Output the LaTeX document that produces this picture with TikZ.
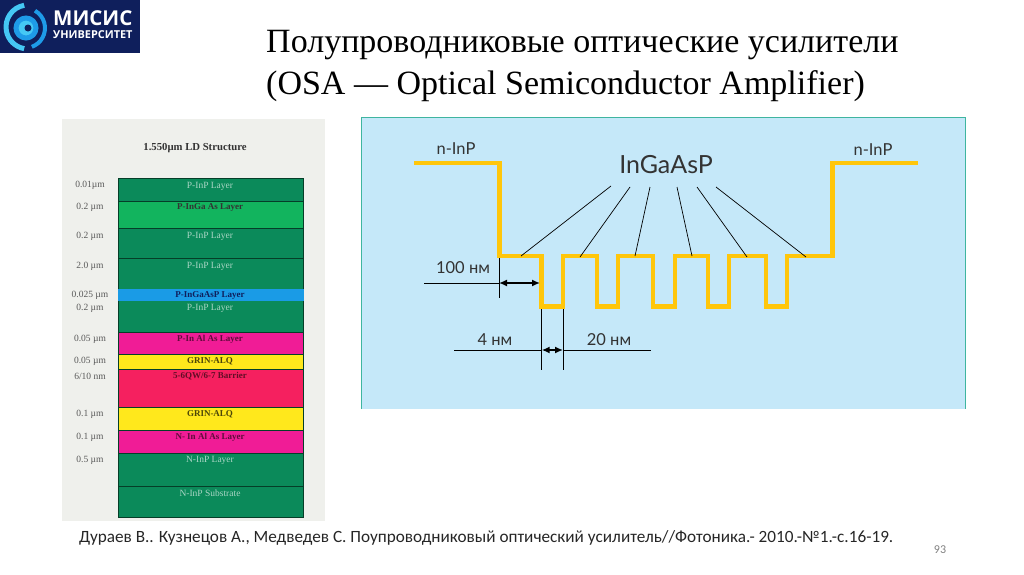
\documentclass[tikz,border=0pt]{standalone}
\usepackage{fontspec}
\setmainfont{Liberation Serif}
\newfontfamily\notefont{Carlito}
\newfontfamily\schemefont{Lato}
\newfontfamily\logofont{Open Sans}
\usepackage{tikz}
\usetikzlibrary{arrows.meta,positioning}

\definecolor{logonavy}{HTML}{0F1F5C}
\definecolor{logoblue}{HTML}{1E9BE8}
\definecolor{logocyan}{HTML}{45C8F5}
\definecolor{sheetgrey}{HTML}{EFF0EC}
\definecolor{inpgreen}{HTML}{0B8A5A}
\definecolor{gaasgreen}{HTML}{12B45E}
\definecolor{gaaspblue}{HTML}{1A9BE6}
\definecolor{alaspink}{HTML}{F01C96}
\definecolor{grinyellow}{HTML}{FFE81C}
\definecolor{barrierred}{HTML}{F5205F}
\definecolor{panelblue}{HTML}{C5E8F9}
\definecolor{panelteal}{HTML}{3FB5A0}
\definecolor{wellyellow}{HTML}{FFC60B}

\begin{document}
\begin{tikzpicture}[
        x=1pt, y=-1pt,
        title/.style={anchor=west, inner sep=0pt, font=\fontsize{34}{34}\selectfont},
        layer/.style={draw=black!55!inpgreen, line width=0.5pt, minimum width=185.5pt, inner sep=0pt},
        thick/.style={text=black!65, inner sep=0pt, font=\fontsize{9.5}{10}\selectfont},
        pale/.style={text=white!65!inpgreen, inner sep=0pt, font=\fontsize{9.5}{10}\selectfont},
        dark/.style={text=black!80, inner sep=0pt, font=\bfseries\fontsize{9}{10}\selectfont},
        scheme/.style={text=black!80, inner sep=0pt, font=\schemefont\fontsize{16.5}{16.5}\selectfont},
        leader/.style={black, line width=0.7pt},
        dim/.style={black, line width=0.7pt},
        span/.style={{Latex[length=8pt,width=7pt]}-{Latex[length=8pt,width=7pt]}, black, line width=1.5pt}
    ]
        \useasboundingbox (0,0) rectangle (1024,574);

        % logo
        \node[fill=logonavy, minimum width=140pt, minimum height=53pt, inner sep=0pt] (logo) at (70,26.5) {};
        \draw[logocyan, line width=5pt] (24.2,5.3) arc[start angle=-100, end angle=-260, radius=22];
        \draw[logoblue, line width=4pt] (35,10.7) arc[start angle=-60, end angle=70, radius=20];
        \node[circle, draw=logoblue, line width=5pt, fill=logocyan, minimum size=20pt, inner sep=0pt] (logoeye) at (26,28) {};
        \node[circle, fill=logonavy, minimum size=7pt, inner sep=0pt] (logopupil) at (28,28) {};
        \node[anchor=west, text=white, inner sep=0pt, font=\logofont\bfseries\fontsize{20.5}{20.5}\selectfont] (logoname) at (53,18) {МИСИС};
        \node[anchor=west, text=white, inner sep=0pt, font=\logofont\bfseries\fontsize{10.9}{11}\selectfont] (logouni) at (53,35) {УНИВЕРСИТЕТ};

        \node[title] (title1) at (266,45) {Полупроводниковые оптические усилители};
        \node[title] (title2) at (266,86) {(OSA — Optical Semiconductor Amplifier)};

        % layer sheet
        \node[fill=sheetgrey, minimum width=263pt, minimum height=402pt, inner sep=0pt] (sheet) at (193.5,320) {};
        \node[text=black!80, inner sep=0pt, font=\bfseries\fontsize{10.7}{11}\selectfont] (sheettitle) at (195,148) {1.550µm LD Structure};

        \node[layer, fill=inpgreen, minimum height=23pt] (lay1) at (210.5,189.5) {};
        \node[layer, fill=gaasgreen, minimum height=27pt] (lay2) at (210.5,214.5) {};
        \node[layer, fill=inpgreen, minimum height=30pt] (lay3) at (210.5,243) {};
        \node[layer, fill=inpgreen, minimum height=31pt] (lay4) at (210.5,273.5) {};
        \node[layer, fill=inpgreen, minimum height=32pt] (lay6) at (210.5,316) {};
        \node[layer, fill=gaaspblue, draw=gaaspblue, minimum height=11pt] (lay5) at (210.5,294.5) {};
        \node[layer, fill=alaspink, minimum height=22pt] (lay7) at (210.5,343) {};
        \node[layer, fill=grinyellow, minimum height=15pt] (lay8) at (210.5,361.5) {};
        \node[layer, fill=barrierred, minimum height=38pt] (lay9) at (210.5,388) {};
        \node[layer, fill=grinyellow, minimum height=23pt] (lay10) at (210.5,418.5) {};
        \node[layer, fill=alaspink, minimum height=23pt] (lay11) at (210.5,441.5) {};
        \node[layer, fill=inpgreen, minimum height=33pt] (lay12) at (210.5,469.5) {};
        \node[layer, fill=inpgreen, minimum height=31pt] (lay13) at (210.5,501.5) {};

        \node[pale] (name1) at (210,186) {P-InP Layer};
        \node[dark] (name2) at (210,207) {P-InGa As Layer};
        \node[pale] (name3) at (210,236) {P-InP Layer};
        \node[pale] (name4) at (210,266) {P-InP Layer};
        \node[dark, text=logonavy] (name5) at (210,295) {P-InGaAsP Layer};
        \node[pale] (name6) at (210,308) {P-InP Layer};
        \node[dark, text=black!60!alaspink] (name7) at (210,339) {P-In Al As Layer};
        \node[dark, text=black!70!grinyellow] (name8) at (210,361) {GRIN-ALQ};
        \node[dark, text=black!60!barrierred] (name9) at (210,376) {5-6QW/6-7 Barrier};
        \node[dark, text=black!70!grinyellow] (name10) at (210,414) {GRIN-ALQ};
        \node[dark, text=black!60!alaspink] (name11) at (210,437) {N- In Al As Layer};
        \node[pale] (name12) at (210,460) {N-InP Layer};
        \node[pale] (name13) at (210,493) {N-InP Substrate};

        \node[thick] (size1) at (90,185) {0.01µm};
        \node[thick] (size2) at (90,207) {0.2 µm};
        \node[thick] (size3) at (90,236) {0.2 µm};
        \node[thick] (size4) at (90,266) {2.0 µm};
        \node[thick] (size5) at (90,295) {0.025 µm};
        \node[thick] (size6) at (90,308) {0.2 µm};
        \node[thick] (size7) at (90,339) {0.05 µm};
        \node[thick] (size8) at (90,361) {0.05 µm};
        \node[thick] (size9) at (90,376) {6/10 nm};
        \node[thick] (size10) at (90,414) {0.1 µm};
        \node[thick] (size11) at (90,437) {0.1 µm};
        \node[thick] (size12) at (90,460) {0.5 µm};

        % quantum well panel
        \node[fill=panelblue, minimum width=603pt, minimum height=291pt, inner sep=0pt] (panel) at (663.5,263.5) {};
        \draw[panelteal, line width=0.8pt] (panel.south west) -- (panel.north west) -- (panel.north east) -- (panel.south east);

        \draw[wellyellow, line width=4.5pt, miter limit=4] (414,163) -- (499.5,163) -- (499.5,256) -- (541.7,256) -- (541.7,306.5)
            -- (563,306.5) -- (563,256) -- (597,256) -- (597,306.5) -- (618,306.5) -- (618,256) -- (653,256) -- (653,306.5)
            -- (675,306.5) -- (675,256) -- (708,256) -- (708,306.5) -- (729,306.5) -- (729,256) -- (766,256) -- (766,306.5)
            -- (787,306.5) -- (787,256) -- (832.7,256) -- (832.7,163) -- (918,163);

        \node[scheme] (inpleft) at (456,149) {n-InP};
        \node[scheme] (inpright) at (873,150) {n-InP};
        \node[scheme, font=\schemefont\fontsize{25}{25}\selectfont] (ingaasp) at (666,165) {InGaAsP};

        \coordinate (from1) at (611,186);
        \coordinate (from2) at (630,187);
        \coordinate (from3) at (650,187);
        \coordinate (from4) at (677,187);
        \coordinate (from5) at (697,187);
        \coordinate (from6) at (716,187);
        \coordinate (top1) at (521,256);
        \coordinate (top2) at (580,257);
        \coordinate (top3) at (635,256);
        \coordinate (top4) at (692,256);
        \coordinate (top5) at (747,257);
        \coordinate (top6) at (806,257);
        \draw[leader] (from1) -- (top1);
        \draw[leader] (from2) -- (top2);
        \draw[leader] (from3) -- (top3);
        \draw[leader] (from4) -- (top4);
        \draw[leader] (from5) -- (top5);
        \draw[leader] (from6) -- (top6);

        \node[scheme] (label100) at (463,268) {100 нм};
        \node[scheme] (label4) at (495,340) {4 нм};
        \node[scheme] (label20) at (609,340) {20 нм};

        \coordinate (tick1a) at (499,258);
        \coordinate (tick1b) at (499,298);
        \coordinate (line1a) at (424,283);
        \coordinate (line1b) at (499,283);
        \coordinate (span1b) at (540,283);
        \draw[dim] (tick1a) -- (tick1b);
        \draw[dim] (line1a) -- (line1b);
        \draw[span] (line1b) -- (span1b);

        \coordinate (tick2a) at (541.7,309);
        \coordinate (tick2b) at (541.7,370);
        \coordinate (tick3a) at (563,309);
        \coordinate (tick3b) at (563,370);
        \coordinate (line2a) at (454,350);
        \coordinate (line2b) at (541.7,350);
        \coordinate (line3a) at (563,350);
        \coordinate (line3b) at (651,350);
        \draw[dim] (tick2a) -- (tick2b);
        \draw[dim] (tick3a) -- (tick3b);
        \draw[dim] (line2a) -- (line2b);
        \draw[dim] (line3a) -- (line3b);
        \draw[span] (line2b) -- (line3a);

        % source and page number
        \node[anchor=west, text=black!85, inner sep=0pt, font=\notefont\fontsize{17.2}{17.2}\selectfont] (source) at (79,538)
            {Дураев В.. Кузнецов А., Медведев С. Поупроводниковый оптический усилитель//Фотоника.- 2010.-№1.-с.16-19.};
        \node[text=black!50, inner sep=0pt, font=\notefont\fontsize{12}{12}\selectfont] (pageno) at (940,550) {93};
    \end{tikzpicture}
\end{document}
